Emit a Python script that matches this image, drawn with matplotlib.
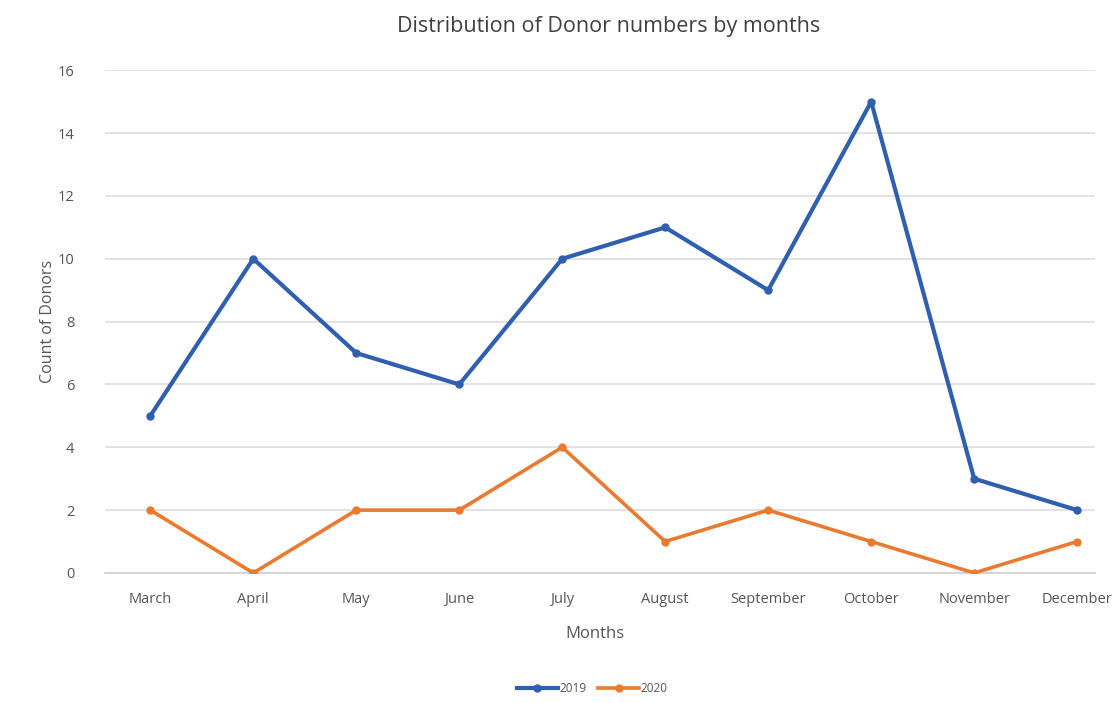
import matplotlib
matplotlib.use("Agg")
import matplotlib.pyplot as plt

months = ["March", "April", "May", "June", "July", "August",
          "September", "October", "November", "December"]
donors_2019 = [5, 10, 7, 6, 10, 11, 9, 15, 3, 2]
donors_2020 = [2, 0, 2, 2, 4, 1, 2, 1, 0, 1]
y_ticks = [0, 2, 4, 6, 8, 10, 12, 14, 16]

plt.rcParams['font.family'] = ['Open Sans', 'DejaVu Sans']

fig = plt.figure(figsize=(11.17, 7.03), dpi=100)
ax = fig.add_axes([0.094, 0.185, 0.886, 0.715])

x = list(range(len(months)))
ax.plot(x, donors_2019, color="#2f5fae", linewidth=3.0, marker="o",
        markersize=5, label="2019", zorder=3)
ax.plot(x, donors_2020, color="#ea7a30", linewidth=2.6, marker="o",
        markersize=5, label="2020", zorder=3)

ax.set_xlim(-0.44, 9.17)
ax.set_ylim(0, 16)
ax.set_yticks(y_ticks)
ax.set_xticks(x)
ax.set_xticklabels(months)
ax.tick_params(axis="both", length=0, labelsize=10.5, colors="#555555")
ax.tick_params(axis="x", pad=14)
ax.tick_params(axis="y", pad=22)

ax.grid(axis="y", color="#dddddd", linewidth=1.2)
ax.set_axisbelow(True)
for side in ["top", "right", "left"]:
    ax.spines[side].set_visible(False)
ax.spines["bottom"].set_color("#d0d0d0")
ax.spines["bottom"].set_linewidth(1.2)

ax.set_xlabel("Months", fontsize=12, color="#555555")
ax.xaxis.set_label_coords(0.495, -0.105)
ax.set_ylabel("Count of Donors", fontsize=11.5, color="#555555")
ax.yaxis.set_label_coords(-0.05, 0.5)
fig.text(0.545, 0.962, "Distribution of Donor numbers by months",
         ha="center", va="center", fontsize=15.5, color="#404040")

fig.legend(loc="center", bbox_to_anchor=(0.53, 0.02), ncol=2, frameon=False,
           fontsize=8.5, handlelength=3.5, columnspacing=1.0, handletextpad=0.1,
           labelcolor="#555555")

fig.savefig("out.png", dpi=100)
